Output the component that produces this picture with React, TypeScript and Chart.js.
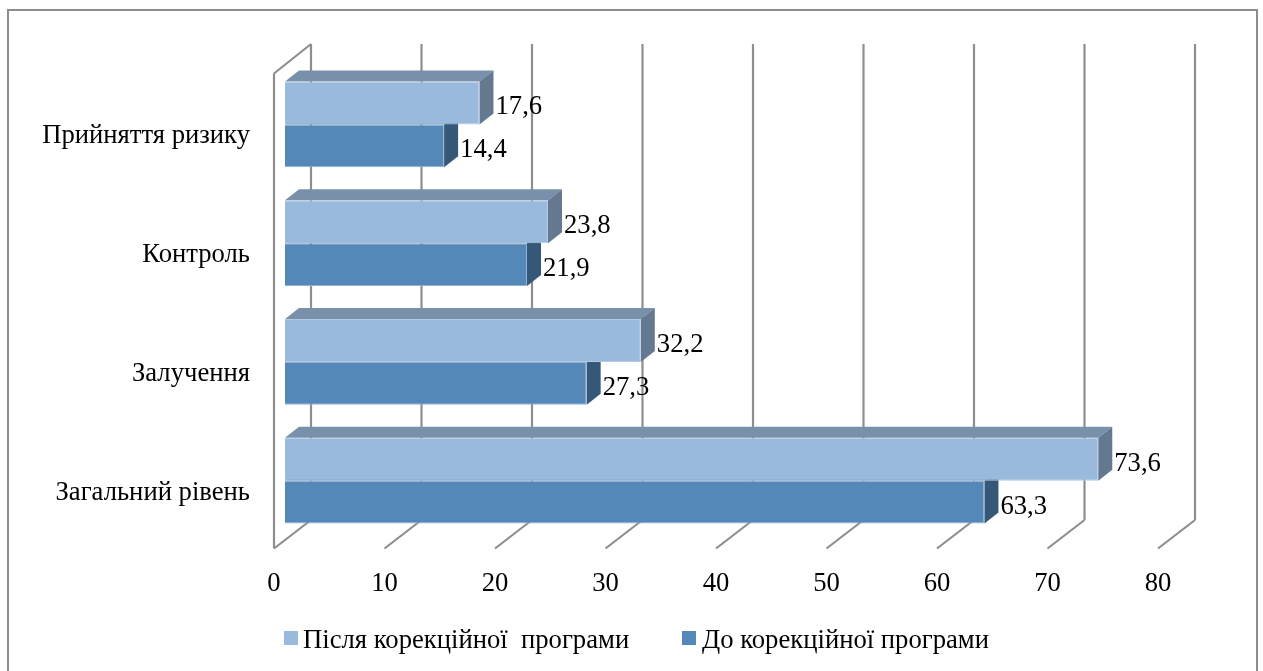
import React, { useEffect, useRef } from "react";
import { Chart, registerables } from "chart.js";

Chart.register(...registerables);

const categories = ["Прийняття ризику", "Контроль", "Залучення", "Загальний рівень"];
const afterValues = [17.6, 23.8, 32.2, 73.6];
const beforeValues = [14.4, 21.9, 27.3, 63.3];
const seriesNames = ["Після корекційної  програми", "До корекційної програми"];
const faceColors = ["#9ABADD", "#5488B9"];
const topColors = ["#7890AA", "#7890AA"];
const sideColors = ["#64798F", "#365878"];
const FONT = '"Liberation Serif", "Times New Roman", serif';
const FONT_SIZE = 26.67;
const GRID = "#8E8E8E";
const DEPTH_X = 14;
const DEPTH_Y = 11;

const poly = (ctx: CanvasRenderingContext2D, pts: number[][], fill: string) => {
  ctx.beginPath();
  pts.forEach((p, i) => (i ? ctx.lineTo(p[0], p[1]) : ctx.moveTo(p[0], p[1])));
  ctx.closePath();
  ctx.fillStyle = fill;
  ctx.fill();
};

const threeD = {
  id: "threeD",
  beforeDatasetsDraw(chart: any) {
    const { ctx, chartArea: a, scales } = chart;
    const x = scales.x;
    const seg = (x1: number, y1: number, x2: number, y2: number) => {
      ctx.moveTo(x1, y1);
      ctx.lineTo(x2, y2);
    };
    ctx.save();
    // outer frame
    ctx.strokeStyle = "#8C8C8C";
    ctx.lineWidth = 2;
    ctx.beginPath();
    ctx.moveTo(8, 672);
    ctx.lineTo(8, 10);
    ctx.lineTo(1257, 10);
    ctx.lineTo(1257, 672);
    ctx.stroke();
    // walls and floor
    ctx.strokeStyle = GRID;
    ctx.lineWidth = 2.2;
    ctx.lineJoin = "miter";
    ctx.beginPath();
    const fy = a.bottom + 8.5;
    const by = a.bottom - 20;
    const ty = a.top - 21;
    x.ticks.forEach((t: any) => {
      const p = x.getPixelForValue(t.value);
      seg(p + 26, ty, p + 26, by);
      seg(p + 26, by, p - 11, fy);
    });
    const p0 = x.getPixelForValue(0);
    seg(p0 - 11, fy, p0 - 11, a.top + 8.5);
    seg(p0 - 11, a.top + 8.5, p0 + 26, ty);
    ctx.stroke();
    // bar depth faces
    chart.data.datasets.forEach((_: any, di: number) => {
      chart.getDatasetMeta(di).data.forEach((b: any) => {
        const p = b.getProps(["x", "y", "base", "height"], true);
        const t = p.y - p.height / 2;
        const bt = p.y + p.height / 2;
        poly(ctx, [[p.base, t], [p.x, t], [p.x + DEPTH_X, t - DEPTH_Y], [p.base + DEPTH_X, t - DEPTH_Y]], topColors[di]);
        poly(ctx, [[p.x, t], [p.x + DEPTH_X, t - DEPTH_Y], [p.x + DEPTH_X, bt - DEPTH_Y], [p.x, bt]], sideColors[di]);
      });
    });
    ctx.restore();
  },
  afterDatasetsDraw(chart: any) {
    const { ctx } = chart;
    ctx.save();
    ctx.font = `${FONT_SIZE}px ${FONT}`;
    ctx.fillStyle = "#000";
    ctx.textBaseline = "middle";
    ctx.textAlign = "left";
    chart.data.datasets.forEach((ds: any, di: number) => {
      chart.getDatasetMeta(di).data.forEach((b: any, i: number) => {
        const p = b.getProps(["x", "y"], true);
        ctx.fillText(String(ds.data[i]).replace(".", ","), p.x + 16, p.y + 4.5);
      });
    });
    // legend
    const markers = [284, 682];
    const texts = [303, 702];
    chart.data.datasets.forEach((ds: any, di: number) => {
      ctx.fillStyle = ds.backgroundColor;
      ctx.fillRect(markers[di], 631, 14, 14);
      ctx.fillStyle = "#000";
      ctx.fillText(ds.label, texts[di], 641);
    });
    ctx.restore();
  },
};

export default function App() {
  const ref = useRef<HTMLCanvasElement>(null);
  useEffect(() => {
    document.body.style.margin = "0";
    document.body.style.overflow = "hidden";
    const chart = new Chart(ref.current!, {
      type: "bar",
      data: {
        labels: categories,
        datasets: [
          { label: seriesNames[0], data: afterValues, backgroundColor: faceColors[0], borderColor: "#B4CAE3", borderWidth: 1 },
          { label: seriesNames[1], data: beforeValues, backgroundColor: faceColors[1], borderColor: "#8FB2D3", borderWidth: 1 },
        ],
      },
      plugins: [threeD],
      options: {
        indexAxis: "y",
        responsive: false,
        animation: false,
        devicePixelRatio: 1,
        layout: { padding: { top: 65, right: 94, bottom: 73, left: 0 } },
        datasets: { bar: { categoryPercentage: 0.723, barPercentage: 1 } },
        plugins: { legend: { display: false }, tooltip: { enabled: false }, title: { display: false } },
        scales: {
          x: {
            min: 0,
            max: 80,
            ticks: { stepSize: 10, color: "#000", font: { family: FONT, size: FONT_SIZE }, labelOffset: -11, padding: 20 },
            grid: { display: false },
            border: { display: false },
            afterFit: (s: any) => { s.height = 58; },
          },
          y: {
            ticks: { color: "#000", font: { family: FONT, size: FONT_SIZE }, labelOffset: 12, padding: 27 },
            grid: { display: false },
            border: { display: false },
            afterFit: (s: any) => { s.width = 285; },
          },
        },
      } as any,
    });
    return () => chart.destroy();
  }, []);
  return <canvas ref={ref} width={1263} height={671} style={{ display: "block" }} />;
}
